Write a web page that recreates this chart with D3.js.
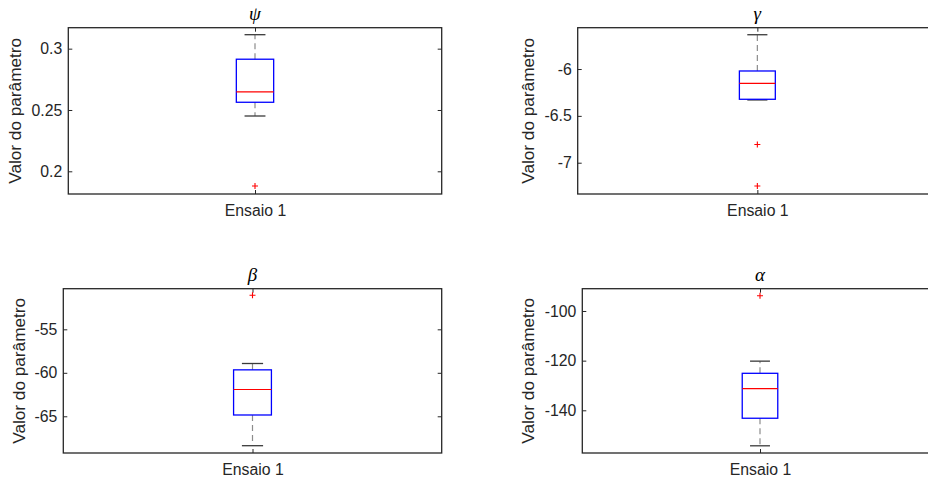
<!DOCTYPE html>
<html>
<head>
<meta charset="utf-8">
<script src="https://cdn.jsdelivr.net/npm/d3@7"></script>
<style>
  html, body { margin: 0; padding: 0; background: #fff; }
  svg { display: block; }
  .tick text { font-family: "Liberation Sans", Arial, sans-serif; font-size: 15.8px; fill: #262626; }
  .tick line { stroke: #262626; stroke-width: 1; }
</style>
</head>
<body>
<svg id="chart" width="928" height="480"></svg>
<script>
// Parameter names (one panel each) and the single trial category
const parameters = ["ψ", "γ", "β", "α"];
const categories = ["Ensaio 1"];
const yLabel = "Valor do parâmetro";

// Box-plot statistics per parameter
const whiskerHigh = [0.3114, -5.634, -58.93, -120.2];
const upperQuartile = [0.2914, -6.021, -59.66, -125.1];
const medians = [0.2647, -6.153, -61.92, -131.3];
const lowerQuartile = [0.2563, -6.323, -64.85, -143.2];
const whiskerLow = [0.2451, -6.330, -68.38, -154.3];
const outliers = [[0.188], [-6.805, -7.249], [-51.09], [-93.84]];

// Axis limits and tick values per parameter
const yLimits = [[0.1815, 0.3171], [-7.334, -5.559], [-69.22, -50.33], [-157.2, -91.02]];
const yTicks = [[0.2, 0.25, 0.3], [-7, -6.5, -6], [-65, -60, -55], [-140, -120, -100]];
const yTickLabels = [["0.2", "0.25", "0.3"], ["-7", "-6.5", "-6"], ["-65", "-60", "-55"], ["-140", "-120", "-100"]];

// Panel frames (pixel layout of each subplot)
const frames = [
  { x0: 68.3, x1: 441.7, y0: 27.7, y1: 194, labelX: 20.5 },
  { x0: 577.7, x1: 937, y0: 27.7, y1: 194, labelX: 534 },
  { x0: 63.3, x1: 441.7, y0: 288.7, y1: 453, labelX: 24.5 },
  { x0: 582.3, x1: 937.7, y0: 288.7, y1: 453, labelX: 534 }
];

const svg = d3.select("#chart");
const ink = "#262626";
const fontSans = '"Liberation Sans", Arial, sans-serif';

parameters.forEach((name, i) => {
  const f = frames[i];
  const x = d3.scalePoint().domain(categories).range([f.x0, f.x1]).padding(0.5);
  const y = d3.scaleLinear().domain(yLimits[i]).range([f.y1, f.y0]);
  const g = svg.append("g");

  // left axis with labels, inward ticks
  g.append("g")
    .attr("transform", `translate(${f.x0},0)`)
    .call(d3.axisLeft(y).tickValues(yTicks[i]).tickFormat((d, k) => yTickLabels[i][k]).tickSize(-4).tickPadding(6))
    .call(a => a.select(".domain").remove());
  // mirrored right ticks
  g.append("g")
    .attr("transform", `translate(${f.x1},0)`)
    .call(d3.axisRight(y).tickValues(yTicks[i]).tickFormat("").tickSize(-4))
    .call(a => a.select(".domain").remove());
  // bottom axis with the category label
  g.append("g")
    .attr("transform", `translate(0,${f.y1})`)
    .call(d3.axisBottom(x).tickSize(-4).tickPadding(10.5))
    .call(a => a.select(".domain").remove());
  // mirrored top tick
  g.append("g")
    .attr("transform", `translate(0,${f.y0})`)
    .call(d3.axisTop(x).tickFormat("").tickSize(-4))
    .call(a => a.select(".domain").remove());

  // frame
  g.append("rect")
    .attr("x", f.x0).attr("y", f.y0)
    .attr("width", f.x1 - f.x0).attr("height", f.y1 - f.y0)
    .attr("fill", "none").attr("stroke", ink).attr("stroke-width", 1.3);

  const cx = x(categories[0]);
  const boxW = (f.x1 - f.x0) * 0.1;
  const capW = boxW * 0.56;

  // whiskers (dashed)
  [[upperQuartile[i], whiskerHigh[i]], [lowerQuartile[i], whiskerLow[i]]].forEach(([a, b]) => {
    g.append("line")
      .attr("x1", cx).attr("x2", cx)
      .attr("y1", y(a)).attr("y2", y(b))
      .attr("stroke", "#8c8c8c").attr("stroke-width", 1.2)
      .attr("stroke-dasharray", "6,4");
  });
  // whisker caps
  [whiskerHigh[i], whiskerLow[i]].forEach(v => {
    g.append("line")
      .attr("x1", cx - capW / 2).attr("x2", cx + capW / 2)
      .attr("y1", y(v)).attr("y2", y(v))
      .attr("stroke", "#3a3a3a").attr("stroke-width", 1.3);
  });
  // box
  g.append("rect")
    .attr("x", cx - boxW / 2).attr("y", y(upperQuartile[i]))
    .attr("width", boxW).attr("height", y(lowerQuartile[i]) - y(upperQuartile[i]))
    .attr("fill", "none").attr("stroke", "#0000ff").attr("stroke-width", 1.3);
  // median
  g.append("line")
    .attr("x1", cx - boxW / 2).attr("x2", cx + boxW / 2)
    .attr("y1", y(medians[i])).attr("y2", y(medians[i]))
    .attr("stroke", "#ff0000").attr("stroke-width", 1.2);
  // outliers
  g.selectAll(".out")
    .data(outliers[i])
    .join("path")
    .attr("d", v => `M${cx - 3},${y(v)}H${cx + 3}M${cx},${y(v) - 3}V${y(v) + 3}`)
    .attr("stroke", "#ff0000").attr("stroke-width", 1.1).attr("fill", "none");

  // title
  g.append("text")
    .attr("x", (f.x0 + Math.min(f.x1, 2 * cx - f.x0)) / 2).attr("y", f.y0 - 8)
    .attr("text-anchor", "middle")
    .attr("font-family", '"Liberation Serif", "Times New Roman", serif')
    .attr("font-style", "italic")
    .attr("font-size", 19)
    .attr("fill", "#000")
    .text(name);

  // y label
  g.append("text")
    .attr("transform", `translate(${f.labelX},${(f.y0 + f.y1) / 2}) rotate(-90)`)
    .attr("text-anchor", "middle")
    .attr("font-family", fontSans)
    .attr("font-size", 17.2)
    .attr("fill", ink)
    .text(yLabel);
});
</script>
</body>
</html>
